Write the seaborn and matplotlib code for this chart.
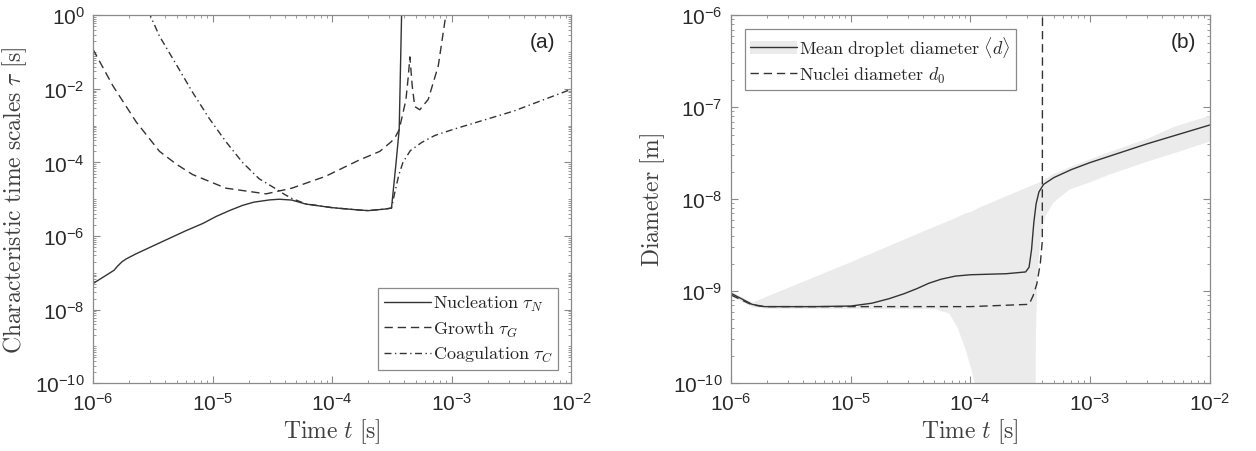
import numpy as np
import pandas as pd
import matplotlib
matplotlib.use('Agg')
import matplotlib.pyplot as plt
import seaborn as sns
from matplotlib.ticker import FixedLocator, LogLocator, FuncFormatter, NullFormatter
from matplotlib.patches import Patch

# ---- (a) characteristic time scales ----
t_nuc = [1e-6, 1.5e-6, 1.6e-6, 1.75e-6, 1.9e-6, 2.3e-6, 3.6e-6, 6e-6, 8.3e-6, 1.07e-5,
         1.4e-5, 1.78e-5, 2.2e-5, 3e-5, 3.6e-5, 4.6e-5, 6e-5, 1e-4, 1.67e-4, 2e-4, 2.75e-4,
         3.13e-4, 3.4e-4, 3.63e-4, 3.8e-4, 3.85e-4]
tau_nuc = [5.1e-8, 1.17e-7, 1.5e-7, 2.0e-7, 2.4e-7, 3.3e-7, 6.5e-7, 1.4e-6, 2.2e-6, 3.4e-6,
           5.0e-6, 6.8e-6, 8.3e-6, 9.6e-6, 1.0e-5, 9.5e-6, 7.4e-6, 5.9e-6, 5.1e-6, 4.9e-6,
           5.4e-6, 5.75e-6, 8.3e-5, 7.8e-4, 1.0, 3.0]

t_gro = [1e-6, 1.47e-6, 2.3e-6, 3.6e-6, 5e-6, 6.8e-6, 1.29e-5, 2.8e-5, 4.6e-5, 8.8e-5,
         1.67e-4, 2.5e-4, 3.13e-4, 3.4e-4, 3.63e-4, 4.13e-4, 4.32e-4, 4.46e-4, 4.67e-4,
         4.9e-4, 5.4e-4, 6.35e-4, 7.7e-4, 8.9e-4, 9.3e-4]
tau_gro = [0.12, 1.2e-2, 1.26e-3, 2.0e-4, 8.9e-5, 4.7e-5, 2.0e-5, 1.4e-5, 2.0e-5, 4.2e-5,
           1.15e-4, 2.0e-4, 3.7e-4, 5.2e-4, 7.8e-4, 5.0e-3, 2.1e-2, 7.4e-2, 1.15e-2,
           3.3e-3, 2.7e-3, 5.2e-3, 4.2e-2, 1.0, 3.0]

t_coa = [2.9e-6, 3.6e-6, 4.95e-6, 6.8e-6, 9.4e-6, 1.29e-5, 1.78e-5, 2.45e-5, 3.4e-5, 4.0e-5,
         4.6e-5, 5.2e-5, 6e-5, 1e-4, 1.67e-4, 2e-4, 2.75e-4, 3.13e-4, 3.3e-4, 3.6e-4, 3.9e-4,
         4.5e-4, 5.6e-4, 7.2e-4, 1.05e-3, 3.3e-3, 1e-2]
tau_coa = [1.3, 0.27, 4.7e-2, 8.1e-3, 1.55e-3, 3.7e-4, 1.0e-4, 3.6e-5, 1.9e-5, 1.35e-5,
           1.05e-5, 9.0e-6, 7.5e-6, 5.9e-6, 5.1e-6, 4.9e-6, 5.4e-6, 5.75e-6, 1.3e-5, 4.5e-5,
           1.0e-4, 2.1e-4, 3.5e-4, 5.4e-4, 8.1e-4, 2.5e-3, 9.8e-3]

# ---- (b) diameters ----
t_mean = [1e-6, 1.5e-6, 1.9e-6, 5e-6, 1e-5, 1.5e-5, 2.1e-5, 2.8e-5, 3.6e-5, 4.5e-5, 5.7e-5,
          7.5e-5, 1e-4, 2e-4, 2.9e-4, 3.1e-4, 3.25e-4, 3.4e-4, 3.55e-4, 3.75e-4, 4.1e-4,
          5e-4, 7e-4, 1e-3, 3e-3, 1e-2]
d_mean = [9.5e-10, 7.2e-10, 6.8e-10, 6.8e-10, 6.9e-10, 7.4e-10, 8.3e-10, 9.4e-10, 1.07e-9,
          1.22e-9, 1.35e-9, 1.46e-9, 1.51e-9, 1.55e-9, 1.62e-9, 1.82e-9, 2.8e-9, 5.6e-9,
          8.9e-9, 1.2e-8, 1.45e-8, 1.72e-8, 2.1e-8, 2.5e-8, 4.0e-8, 6.4e-8]

t_nuclei = [1e-6, 1.5e-6, 1.9e-6, 1e-4, 3.1e-4, 3.35e-4, 3.6e-4, 3.85e-4, 4.0e-4, 4.02e-4]
d_nuclei = [9.1e-10, 7.1e-10, 6.8e-10, 6.8e-10, 7.2e-10, 8.9e-10, 1.2e-9, 2.0e-9, 3.5e-9, 3e-6]

t_band = [1e-6, 1.5e-6, 2e-6, 1e-5, 5e-5, 6.6e-5, 7.8e-5, 9e-5, 1.01e-4, 1.1e-4, 1.15e-4,
          3.45e-4, 3.5e-4, 3.6e-4, 3.8e-4, 4.0e-4, 4.2e-4, 4.9e-4, 6.7e-4, 1e-3, 1.4e-3,
          3e-3, 5e-3, 1e-2]
band_hi = [1.0e-9, 7.6e-10, 8.9e-10, 2.1e-9, 5.1e-9, 5.9e-9, 6.5e-9, 7.1e-9, 7.4e-9, 7.8e-9,
           8.1e-9, 1.48e-8, 1.48e-8, 1.51e-8, 1.55e-8, 1.58e-8, 1.68e-8, 1.9e-8, 2.25e-8,
           2.75e-8, 3.25e-8, 4.6e-8, 6.2e-8, 8.2e-8]
band_lo = [8.9e-10, 6.8e-10, 6.5e-10, 6.5e-10, 6.5e-10, 5.8e-10, 4.0e-10, 2.4e-10, 1.45e-10,
           8.9e-11, 1e-12, 1e-12, 3.2e-10, 1.4e-9, 3.5e-9, 5.0e-9, 6.6e-9, 9.3e-9, 1.29e-8,
           1.55e-8, 1.85e-8, 2.6e-8, 3.2e-8, 4.3e-8]

line_col = '#333333'
sns.set_style('ticks')
plt.rcParams['font.family'] = ['Liberation Sans', 'DejaVu Sans']
plt.rcParams['mathtext.fontset'] = 'cm'
plt.rcParams['xtick.direction'] = 'in'
plt.rcParams['ytick.direction'] = 'in'
plt.rcParams['axes.edgecolor'] = '#8a8a8a'
plt.rcParams['xtick.color'] = '#8a8a8a'
plt.rcParams['ytick.color'] = '#8a8a8a'
plt.rcParams['xtick.labelcolor'] = '#2a2a2a'
plt.rcParams['ytick.labelcolor'] = '#2a2a2a'

fig = plt.figure(figsize=(12.56, 4.52), dpi=100)
ax1 = fig.add_axes([0.074, 0.150, 0.381, 0.814])
ax2 = fig.add_axes([0.582, 0.150, 0.381, 0.814])

dash = (0, (6, 3.5))
dashdot = (0, (5, 2.5, 1, 2.5))

for ax in (ax1, ax2):
    ax.set_xscale('log')
    ax.set_yscale('log')

df_nuc = pd.DataFrame({'t': t_nuc, 'tau': tau_nuc})
df_gro = pd.DataFrame({'t': t_gro, 'tau': tau_gro})
df_coa = pd.DataFrame({'t': t_coa, 'tau': tau_coa})
sns.lineplot(data=df_nuc, x='t', y='tau', ax=ax1, color=line_col, lw=1.0, estimator=None,
             label=r'$\mathrm{Nucleation}\ \tau_N$')
sns.lineplot(data=df_gro, x='t', y='tau', ax=ax1, color=line_col, lw=1.0, estimator=None,
             linestyle=dash, label=r'$\mathrm{Growth}\ \tau_G$')
sns.lineplot(data=df_coa, x='t', y='tau', ax=ax1, color=line_col, lw=1.0, estimator=None,
             linestyle=dashdot, label=r'$\mathrm{Coagulation}\ \tau_C$')

ax2.fill_between(t_band, band_lo, band_hi, color='#ebebeb', lw=0)
df_mean = pd.DataFrame({'t': t_mean, 'd': d_mean})
df_nuclei = pd.DataFrame({'t': t_nuclei, 'd': d_nuclei})
sns.lineplot(data=df_mean, x='t', y='d', ax=ax2, color=line_col, lw=1.0, estimator=None)
sns.lineplot(data=df_nuclei, x='t', y='d', ax=ax2, color=line_col, lw=1.0, estimator=None,
             linestyle=dash)

ax1.set_xlim(1e-6, 1e-2)
ax1.set_ylim(1e-10, 1)
ax2.set_xlim(1e-6, 1e-2)
ax2.set_ylim(1e-10, 1e-6)

fmt = FuncFormatter(lambda v, p: r'$\mathdefault{10^{%d}}$' % int(round(np.log10(v))))
for ax in (ax1, ax2):
    ax.xaxis.set_major_locator(FixedLocator([1e-6, 1e-5, 1e-4, 1e-3, 1e-2]))
    ax.xaxis.set_minor_locator(LogLocator(base=10, subs=np.arange(2, 10), numticks=100))
    ax.yaxis.set_minor_locator(LogLocator(base=10, subs=np.arange(1, 10), numticks=100))
    ax.xaxis.set_major_formatter(fmt)
    ax.yaxis.set_major_formatter(fmt)
    ax.xaxis.set_minor_formatter(NullFormatter())
    ax.yaxis.set_minor_formatter(NullFormatter())
    ax.tick_params(which='both', top=True, right=True, labelsize=15, pad=6)
    ax.tick_params(which='major', length=5, width=0.8)
    ax.tick_params(which='minor', length=2.5, width=0.6)
    for s in ax.spines.values():
        s.set_linewidth(0.9)
    ax.set_xlabel(r'$\mathrm{Time}\ t\ [\mathrm{s}]$', fontsize=17, color='#404040', labelpad=2)
ax1.yaxis.set_major_locator(FixedLocator([1e-10, 1e-8, 1e-6, 1e-4, 1e-2, 1]))
ax2.yaxis.set_major_locator(FixedLocator([1e-10, 1e-9, 1e-8, 1e-7, 1e-6]))

ax1.set_ylabel(r'$\mathrm{Characteristic\ time\ scales}\ \tau\ [\mathrm{s}]$', fontsize=17,
               color='#404040', labelpad=4)
ax2.set_ylabel(r'$\mathrm{Diameter}\ [\mathrm{m}]$', fontsize=17, color='#404040', labelpad=4)

ax1.text(0.94, 0.93, '(a)', transform=ax1.transAxes, ha='center', va='center',
         fontsize=15, color='#262626')
ax2.text(0.946, 0.93, '(b)', transform=ax2.transAxes, ha='center', va='center',
         fontsize=15, color='#262626')

leg_kw = dict(fontsize=13, frameon=True, fancybox=False, framealpha=1, edgecolor='#8a8a8a',
              handlelength=2.6, handletextpad=0.1, labelspacing=0.3, borderpad=0.3,
              borderaxespad=0.75)
h1 = ax1.get_lines()[:3]
leg1 = ax1.legend(handles=h1, labels=[l.get_label() for l in h1], loc='lower right', **leg_kw)
leg1.get_frame().set_linewidth(0.9)

l_mean, l_nuc = ax2.get_lines()[:2]
band_patch = Patch(facecolor='#ebebeb', edgecolor='none')
leg2 = ax2.legend(handles=[(band_patch, l_mean), l_nuc],
                  labels=[r'$\mathrm{Mean\ droplet\ diameter}\ \langle d\rangle$',
                          r'$\mathrm{Nuclei\ diameter}\ d_0$'],
                  loc='upper left', **leg_kw)
leg2.get_frame().set_linewidth(0.9)

fig.savefig('out.png', dpi=100)
